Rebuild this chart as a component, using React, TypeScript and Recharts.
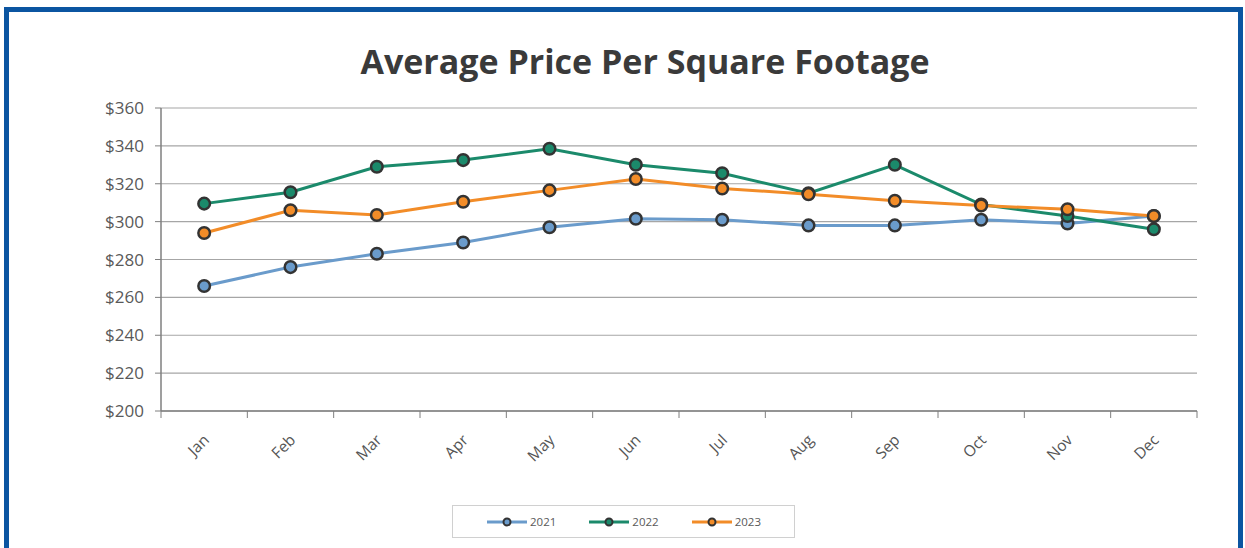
import React from 'react';
import { LineChart, Line, XAxis, YAxis, CartesianGrid, Legend } from 'recharts';

const months = ['Jan', 'Feb', 'Mar', 'Apr', 'May', 'Jun', 'Jul', 'Aug', 'Sep', 'Oct', 'Nov', 'Dec'];
const price2021 = [266, 276, 283, 289, 297, 301.5, 301, 298, 298, 301, 299, 303];
const price2022 = [309.5, 315.5, 329, 332.5, 338.5, 330, 325.5, 315, 330, 309, 303, 296];
const price2023 = [294, 306, 303.5, 310.5, 316.5, 322.5, 317.5, 314.5, 311, 308.5, 306.5, 303];
const yTicks = [200, 220, 240, 260, 280, 300, 320, 340, 360];

const series = [
  { key: 'y2021', name: '2021', color: '#6a9bcb' },
  { key: 'y2022', name: '2022', color: '#1b8a6b' },
  { key: 'y2023', name: '2023', color: '#f28c28' },
];

const data = months.map((m, i) => ({
  month: m,
  y2021: price2021[i],
  y2022: price2022[i],
  y2023: price2023[i],
}));

const W = 1245;
const H = 548;
const PLOT_LEFT = 161;
const PLOT_RIGHT = 1197;
const HALF_BAND = (PLOT_RIGHT - PLOT_LEFT) / months.length / 2;
const FONT = '"Open Sans", "Noto Sans", sans-serif';

const MonthTick = (props: any) => {
  const { x, y, payload, index } = props;
  const last = index === months.length - 1;
  return (
    <g>
      <line x1={x - HALF_BAND} x2={x - HALF_BAND} y1={y - 8} y2={y - 1} stroke="#7f7f7f" />
      {last && <line x1={x + HALF_BAND} x2={x + HALF_BAND} y1={y - 8} y2={y - 1} stroke="#7f7f7f" />}
      <text
        x={x + 6}
        y={y + 22}
        transform={`rotate(-45 ${x + 6} ${y + 22})`}
        textAnchor="end"
        fill="#555"
        fontSize={15.5}
        fontFamily={FONT}
      >
        {payload.value}
      </text>
    </g>
  );
};

const LegendBox = (props: any) => {
  const { payload } = props;
  return (
    <div
      style={{
        width: 343,
        height: 33,
        border: '1px solid #d0d0d0',
        display: 'flex',
        alignItems: 'center',
        paddingLeft: 34,
        boxSizing: 'border-box',
        fontFamily: FONT,
        fontSize: 11.5,
        color: '#595959',
      }}
    >
      {(payload || []).map((p: any) => (
        <div key={p.value} style={{ display: 'flex', alignItems: 'center', width: 104.5 }}>
          <svg width={40} height={12}>
            <line x1={0} x2={40} y1={6} y2={6} stroke={p.color} strokeWidth={3} />
            <circle cx={20} cy={6} r={3.5} fill={p.color} stroke="#333" strokeWidth={2} />
          </svg>
          <span style={{ marginLeft: 3 }}>{p.value}</span>
        </div>
      ))}
    </div>
  );
};

export default function App() {
  return (
    <div style={{ position: 'absolute', left: 0, top: 0, width: W, height: H, background: '#fff', overflow: 'hidden' }}>
      <div
        style={{
          position: 'absolute',
          left: 4,
          top: 7,
          width: 1229,
          height: 560,
          border: '5px solid #0b55a1',
        }}
      />
      <div
        style={{
          position: 'absolute',
          left: 0,
          top: 38,
          width: 1290,
          textAlign: 'center',
          fontFamily: FONT,
          fontWeight: 700,
          fontSize: 34,
          color: '#3a3a3a',
        }}
      >
        Average Price Per Square Footage
      </div>
      <div style={{ position: 'absolute', left: 0, top: 0 }}>
        <LineChart width={W} height={H} data={data} margin={{ top: 108, right: 48, left: 0, bottom: 0 }}>
          <CartesianGrid vertical={false} stroke="#a6a6a6" strokeWidth={1.2} />
          <XAxis
            dataKey="month"
            scale="band"
            height={137}
            axisLine={{ stroke: '#7f7f7f', strokeWidth: 1.5 }}
            tickLine={false}
            tick={<MonthTick />}
            interval={0}
          />
          <YAxis
            width={161}
            domain={[200, 360]}
            ticks={yTicks}
            tickFormatter={(v: number) => `$${v}`}
            axisLine={{ stroke: '#7f7f7f', strokeWidth: 1.5 }}
            tickLine={{ stroke: '#7f7f7f' }}
            tickSize={6}
            tickMargin={11}
            tick={{ fill: '#595959', fontSize: 17, fontFamily: FONT }}
          />
          <YAxis
            yAxisId="frame"
            orientation="right"
            width={0}
            domain={[200, 360]}
            tick={false}
            tickLine={false}
            axisLine={{ stroke: '#7f7f7f', strokeWidth: 1.5 }}
          />
          <Legend
            verticalAlign="middle"
            align="center"
            layout="horizontal"
            content={<LegendBox />}
            wrapperStyle={{ left: 452, top: 505, width: 343, height: 33 }}
          />
          {series.map((s) => (
            <Line
              key={s.key}
              type="linear"
              dataKey={s.key}
              name={s.name}
              stroke={s.color}
              strokeWidth={3}
              dot={{ r: 5.8, fill: s.color, stroke: '#333', strokeWidth: 2.5 }}
              activeDot={false}
              isAnimationActive={false}
            />
          ))}
        </LineChart>
      </div>
    </div>
  );
}
